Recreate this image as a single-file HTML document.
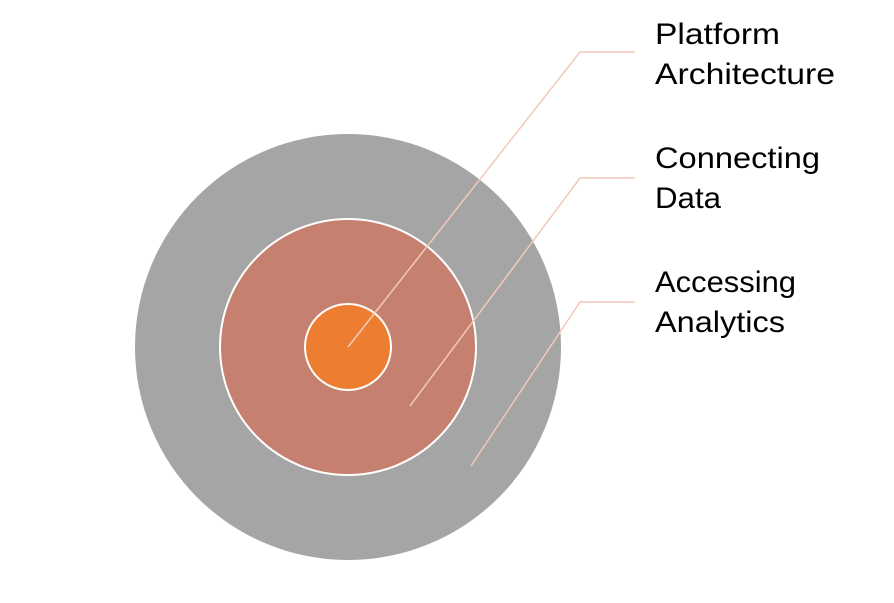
<!DOCTYPE html>
<html><head><meta charset="utf-8"><style>
html,body{margin:0;padding:0;background:#fff;}
svg{display:block;}
text{font-family:"Liberation Sans",sans-serif;font-size:30px;fill:#000;}
</style></head><body>
<svg width="894" height="603" viewBox="0 0 894 603" xmlns="http://www.w3.org/2000/svg">
<rect width="894" height="603" fill="#fff"/>
<circle cx="348" cy="347" r="213" fill="#a5a5a5"/>
<circle cx="348" cy="347" r="128" fill="#c5806f" stroke="#fff" stroke-width="2"/>
<circle cx="348" cy="347" r="43" fill="#ed7d31" stroke="#fff" stroke-width="2"/>
<g fill="none" stroke="#f4c9b8" stroke-width="1.5">
<polyline points="348,347 580,52 635,52"/>
<polyline points="410,406 580,178 635,178"/>
<polyline points="471,466 580,302 635,302"/>
</g>
<text x="655" y="44" textLength="125" lengthAdjust="spacingAndGlyphs">Platform</text>
<text x="655" y="84" textLength="180" lengthAdjust="spacingAndGlyphs">Architecture</text>
<text x="655" y="168" textLength="165" lengthAdjust="spacingAndGlyphs">Connecting</text>
<text x="655" y="208" textLength="66" lengthAdjust="spacingAndGlyphs">Data</text>
<text x="655" y="292" textLength="141" lengthAdjust="spacingAndGlyphs">Accessing</text>
<text x="655" y="332" textLength="130" lengthAdjust="spacingAndGlyphs">Analytics</text>
</svg>
</body></html>
